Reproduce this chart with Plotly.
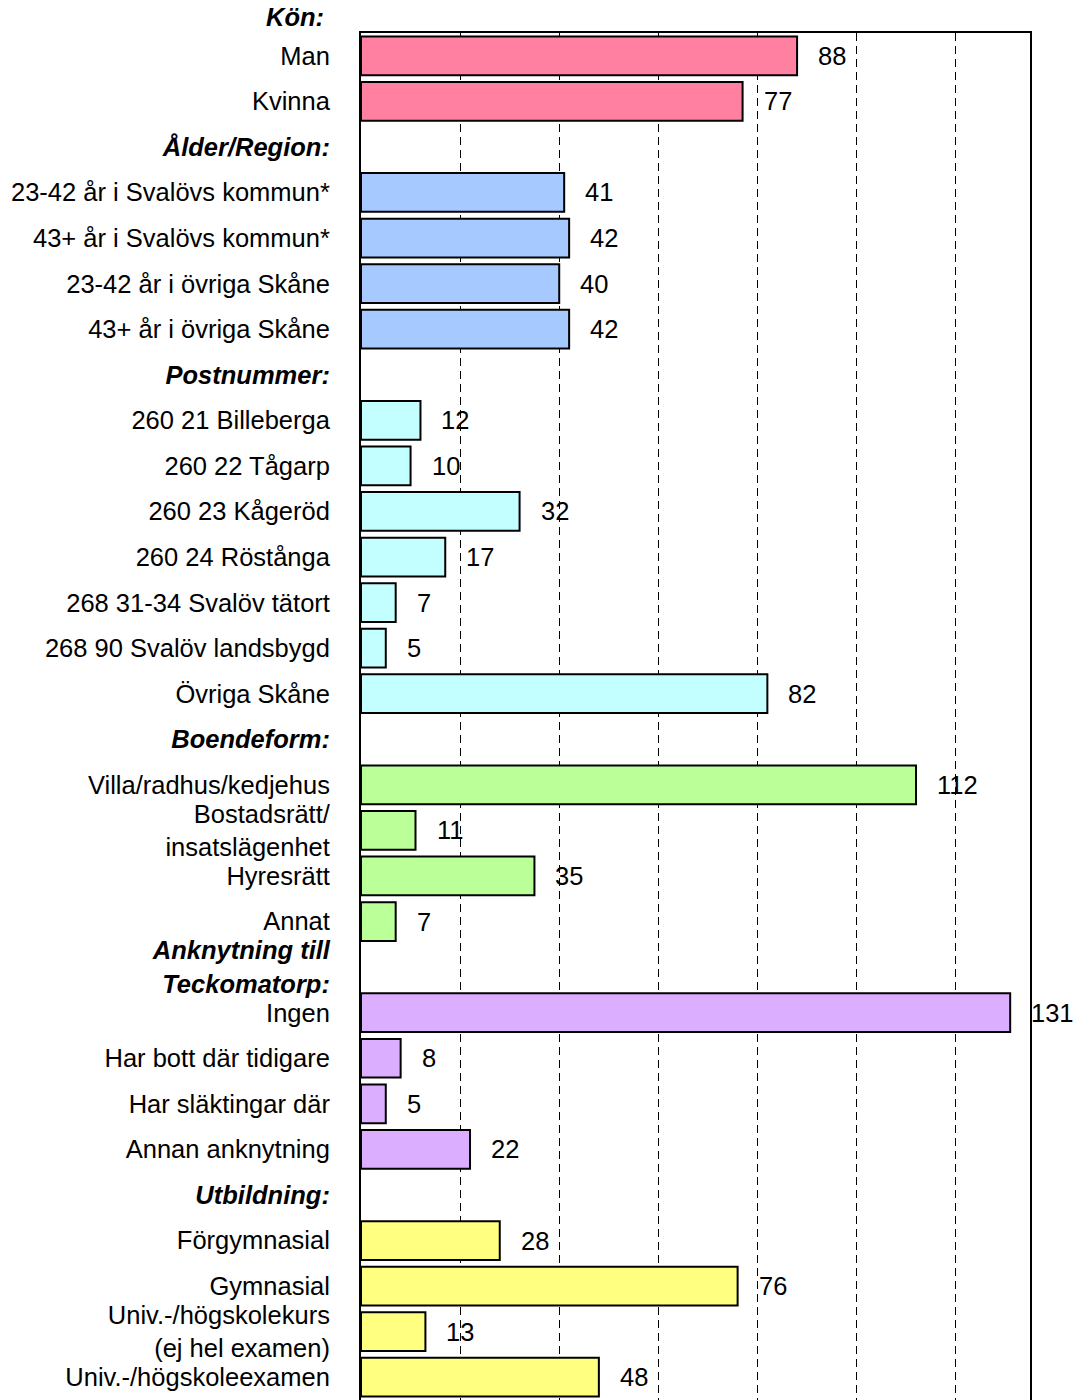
import plotly.graph_objects as go

# ---- data ----
group_headers = ["Kön:", "Ålder/Region:", "Postnummer:", "Boendeform:",
                 "Anknytning till<br>Teckomatorp:", "Utbildning:"]
group_labels = [
    ["Man", "Kvinna"],
    ["23-42 år i Svalövs kommun*", "43+ år i Svalövs kommun*",
     "23-42 år i övriga Skåne", "43+ år i övriga Skåne"],
    ["260 21 Billeberga", "260 22 Tågarp", "260 23 Kågeröd", "260 24 Röstånga",
     "268 31-34 Svalöv tätort", "268 90 Svalöv landsbygd", "Övriga Skåne"],
    ["Villa/radhus/kedjehus", "Bostadsrätt/<br>insatslägenhet", "Hyresrätt", "Annat"],
    ["Ingen", "Har bott där tidigare", "Har släktingar där", "Annan anknytning"],
    ["Förgymnasial", "Gymnasial", "Univ.-/högskolekurs<br>(ej hel examen)",
     "Univ.-/högskoleexamen"],
]
group_values = [
    [88, 77],
    [41, 42, 40, 42],
    [12, 10, 32, 17, 7, 5, 82],
    [112, 11, 35, 7],
    [131, 8, 5, 22],
    [28, 76, 13, 48],
]
group_colors = ["#FF80A0", "#A6CAFF", "#C4FFFF", "#BBFF99", "#DCAEFF", "#FFFF80"]
x_gridlines = [20, 40, 60, 80, 100, 120]

FONT = "Liberation Sans, Arial, sans-serif"
FS = 25.5

W, H = 1077, 1400
M_L, M_R, M_T, M_B = 361, 47, 33, 0
plot_h = H - M_T - M_B

fig = go.Figure()
tickvals, ticktext = [], []
row = 0
annotations = []
header_rows = []
for hdr, labels, vals, col in zip(group_headers, group_labels, group_values, group_colors):
    header_rows.append((row, hdr))
    tickvals.append(row)
    ticktext.append(f"<b><i>{hdr}</i></b>")
    row += 1
    ys = []
    for lab, v in zip(labels, vals):
        tickvals.append(row)
        ticktext.append(lab)
        ys.append(row)
        annotations.append(dict(x=v, y=row, xref="x", yref="y", text=str(v),
                                showarrow=False, xanchor="left", yanchor="middle",
                                xshift=19, font=dict(family=FONT, size=FS, color="black")))
        row += 1
    fig.add_trace(go.Bar(x=vals, y=ys, orientation="h", width=0.85,
                         marker=dict(color=col, line=dict(color="black", width=2)),
                         showlegend=False, hoverinfo="skip"))

# first header lies above the plot area
r0, h0 = header_rows[0]
annotations.append(dict(x=0, y=1 + 16 / plot_h, xref="paper", yref="paper",
                        text=f"<b><i>{h0}</i></b>",
                        showarrow=False, xanchor="right", yanchor="middle",
                        xshift=-35,
                        font=dict(family=FONT, size=FS, color="black")))

last = row - 1
fig.update_layout(
    width=W, height=H,
    margin=dict(l=M_L, r=M_R, t=M_T, b=M_B),
    paper_bgcolor="white", plot_bgcolor="white",
    font=dict(family=FONT, size=FS, color="black"),
    annotations=annotations,
    xaxis=dict(range=[0, 135], tickvals=x_gridlines, showticklabels=False,
               showgrid=True, gridcolor="black", gridwidth=1, griddash="8px,5px",
               zeroline=False, showline=True, linecolor="black", linewidth=2,
               mirror=True, automargin=False, fixedrange=True),
    yaxis=dict(range=[last + 0.5, 0.5], tickvals=tickvals, ticktext=ticktext,
               showgrid=False, zeroline=False, showline=True, linecolor="black",
               linewidth=2, mirror=True, automargin=False, ticks="",
               ticklabelstandoff=24, fixedrange=True,
               tickfont=dict(family=FONT, size=FS, color="black")),
)

fig.write_html("out.html", config={"displayModeBar": False, "staticPlot": True},
               post_script="document.body.style.margin='0';document.body.style.overflow='hidden';")
